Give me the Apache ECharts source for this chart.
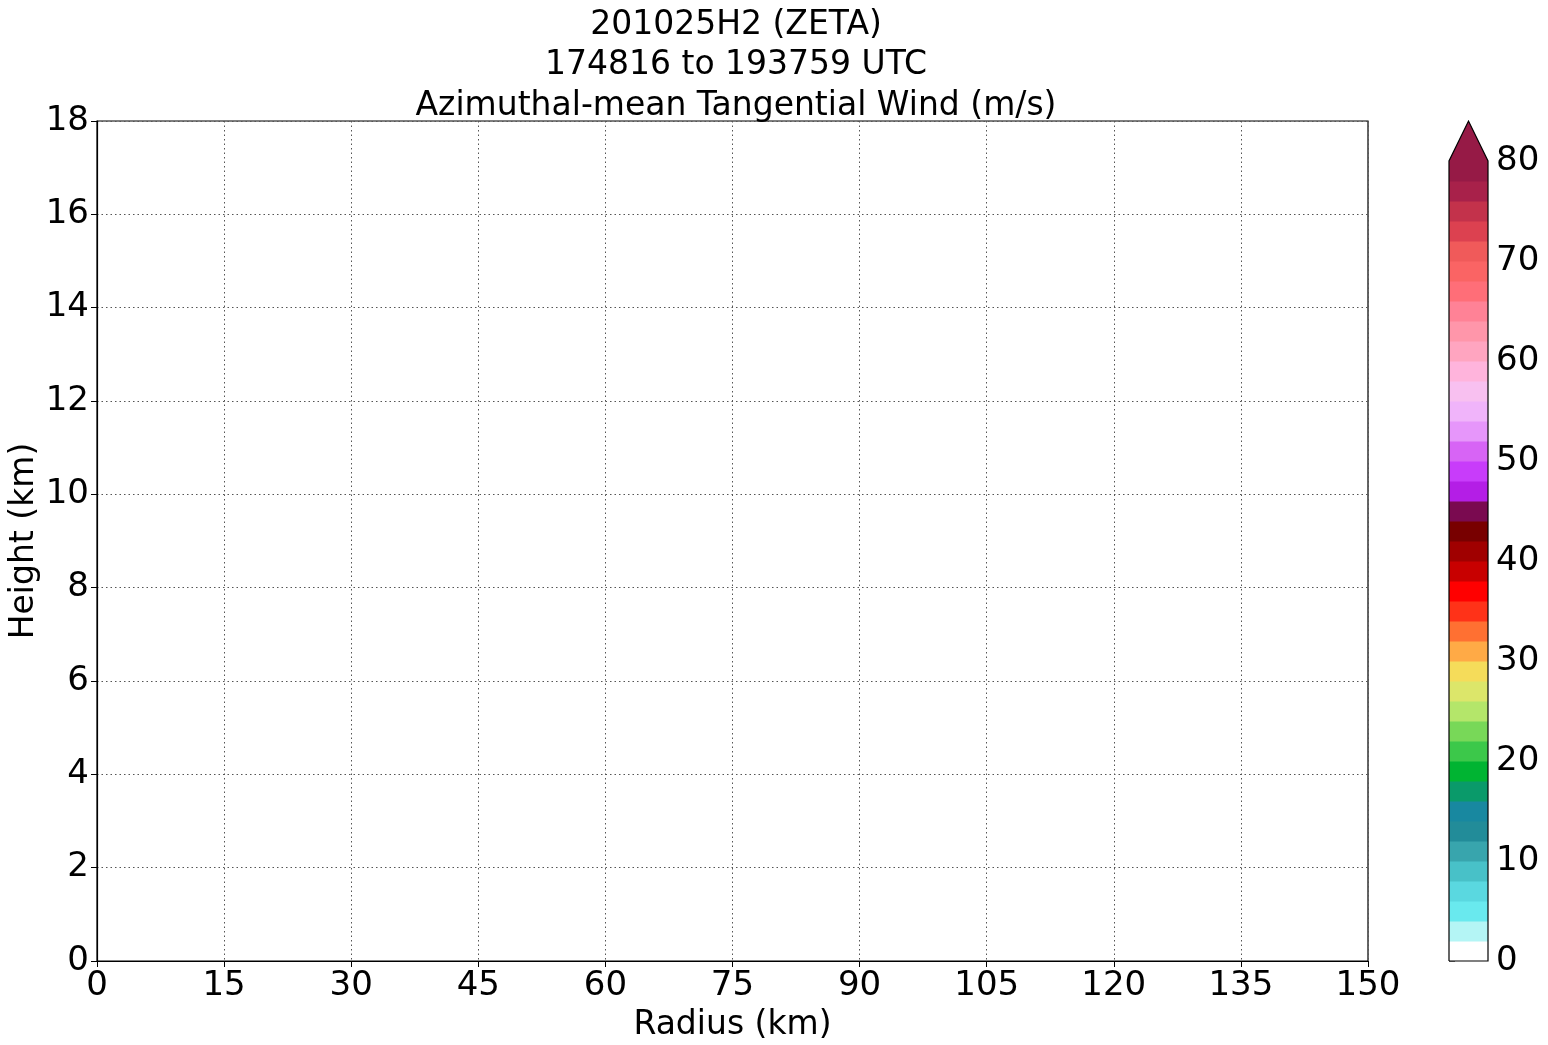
<!DOCTYPE html>
<html>
<head>
<meta charset="utf-8">
<script src="https://cdn.jsdelivr.net/npm/echarts@6/dist/echarts.min.js"></script>
<style>html,body{margin:0;padding:0;background:#fff}#c{width:1548px;height:1045px}</style>
</head>
<body>
<div id="c"></div>
<script>
var titleLines = ['201025H2 (ZETA)', '174816 to 193759 UTC', 'Azimuthal-mean Tangential Wind (m/s)'];
var xTicks = [0, 15, 30, 45, 60, 75, 90, 105, 120, 135, 150];
var yTicks = [0, 2, 4, 6, 8, 10, 12, 14, 16, 18];
var cbarTicks = [0, 10, 20, 30, 40, 50, 60, 70, 80];
var levels = [0,2,4,6,8,10,12,14,16,18,20,22,24,26,28,30,32,34,36,38,40,42,44,46,48,50,52,54,56,58,60,62,64,66,68,70,72,74,76,78,80];
var levelColors = ['#ffffff','#b4f5f5','#69e9ee','#5ad8e0','#48c1c8','#38a5ad','#228c99','#1888a0','#0a9a6a','#00b432',
  '#3cc84a','#78d858','#b4e66a','#dce66a','#f5dc5a','#ffaa46','#ff7032','#ff3218','#ff0000','#c80000',
  '#a00000','#780000','#7a0a50','#b41ee6','#c83cfa','#d764f5','#e696fa','#f0b4fa','#f8c0f0','#ffb4dc',
  '#ffa5c0','#ff96aa','#ff8296','#ff6e78','#fa6464','#f05a5a','#dc4150','#c3324b','#a8214a','#961a46'];
var overColor = '#961a46';
var extendTip = 84;

var FONT = 'DejaVu Sans';
var TICKFS = 34;
var chart = echarts.init(document.getElementById('c'), null, {renderer: 'canvas'});

var binData = [];
for (var i = 0; i < levels.length - 1; i++) binData.push([levels[i], levels[i + 1], i]);

var option = {
  animation: false,
  backgroundColor: '#fff',
  title: {
    text: titleLines.join('\n'),
    left: 731, top: 0, textAlign: 'center',
    textStyle: {fontFamily: FONT, fontSize: 33, fontWeight: 'normal', color: '#000', lineHeight: 40.5}
  },
  grid: [
    {left: 97, top: 121, width: 1271, height: 840, show: true, borderColor: '#000', borderWidth: 1.2, backgroundColor: 'transparent', outerBoundsMode: 'none', containLabel: false},
    {left: 1449, top: 161, width: 39, height: 800, show: false, outerBoundsMode: 'none', containLabel: false}
  ],
  xAxis: [
    {gridIndex: 0, type: 'value', min: 0, max: 150, interval: 15,
     name: 'Radius (km)', nameLocation: 'middle', nameGap: 48,
     nameTextStyle: {fontFamily: FONT, fontSize: 33, color: '#000'},
     axisLine: {show: true, lineStyle: {color: '#000', width: 1.2}},
     axisTick: {show: true, length: 6, lineStyle: {color: '#000', width: 1}},
     axisLabel: {fontFamily: FONT, fontSize: TICKFS, color: '#000', margin: 8},
     splitLine: {show: true, lineStyle: {color: '#555', type: [1.5, 3], width: 1}}},
    {gridIndex: 1, type: 'value', min: 0, max: 1, show: false}
  ],
  yAxis: [
    {gridIndex: 0, type: 'value', min: 0, max: 18, interval: 2,
     name: 'Height (km)', nameLocation: 'middle', nameGap: 56, nameRotate: 90, nameMoveOverlap: false,
     nameTextStyle: {fontFamily: FONT, fontSize: 33, color: '#000'},
     axisLine: {show: true, lineStyle: {color: '#000', width: 1.2}},
     axisTick: {show: true, length: 6, lineStyle: {color: '#000', width: 1}},
     axisLabel: {fontFamily: FONT, fontSize: TICKFS, color: '#000', margin: 8},
     splitLine: {show: true, lineStyle: {color: '#555', type: [1.5, 3], width: 1}}},
    {gridIndex: 1, type: 'value', min: 0, max: 80, interval: 10, position: 'right',
     axisLine: {show: false},
     axisTick: {show: true, length: 6, lineStyle: {color: '#000', width: 1}},
     axisLabel: {fontFamily: FONT, fontSize: TICKFS, color: '#000', margin: 8},
     splitLine: {show: false}}
  ],
  series: [
    {type: 'scatter', xAxisIndex: 0, yAxisIndex: 0, data: [], silent: true},
    {type: 'custom', xAxisIndex: 1, yAxisIndex: 1, data: binData, clip: false, silent: true,
     renderItem: function (params, api) {
       var lo = api.value(0), hi = api.value(1), idx = api.value(2);
       var p1 = api.coord([0, hi]), p2 = api.coord([1, lo]);
       return {type: 'rect', shape: {x: p1[0], y: p1[1], width: p2[0] - p1[0], height: p2[1] - p1[1] + 0.5},
               style: {fill: levelColors[idx]}};
     }},
    {type: 'custom', xAxisIndex: 1, yAxisIndex: 1, data: [[80, extendTip]], clip: false, silent: true, z: 3,
     renderItem: function (params, api) {
       var top = api.value(0), tip = api.value(1);
       var a = api.coord([0, top]), b = api.coord([1, top]), c = api.coord([0.5, tip]);
       var b0 = api.coord([1, 0]), a0 = api.coord([0, 0]);
       return {type: 'group', children: [
         {type: 'polygon', shape: {points: [a, b, c]}, style: {fill: overColor}},
         {type: 'polyline', shape: {points: [a0, a, c, b, b0, a0]}, style: {fill: null, stroke: '#000', lineWidth: 1.2}}
       ]};
     }}
  ]
};
chart.setOption(option);
</script>
</body>
</html>
